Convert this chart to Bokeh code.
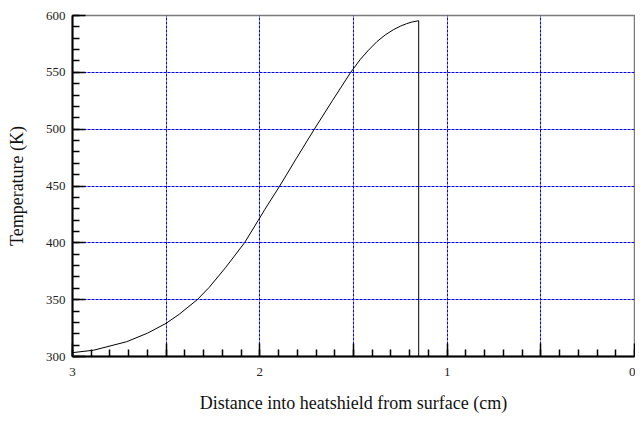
from bokeh.plotting import figure
from bokeh.models import FixedTicker, Range1d
from bokeh.embed import file_html
from bokeh.resources import INLINE

# Data
depth_cm = [3.0, 2.888, 2.711, 2.6, 2.5, 2.43, 2.334, 2.271, 2.184, 2.082,
            2.008, 1.973, 1.894, 1.806, 1.709, 1.613, 1.515, 1.463, 1.42,
            1.375, 1.33, 1.287, 1.25, 1.217, 1.185, 1.152, 1.152]
temperature_k = [303.4, 305.5, 313.0, 320.5, 329.2, 337.2, 350.0, 360.7, 378.0,
                 400.0, 419.9, 429.5, 450.0, 474.0, 500.0, 525.0, 550.0, 561.5,
                 569.5, 577.0, 583.0, 587.5, 590.6, 592.8, 594.4, 595.4, 300.0]

x_major = [3.0, 2.5, 2.0, 1.5, 1.0, 0.5, 0.0]
x_minor = [round(i * 0.1, 1) for i in range(0, 31)]
x_labels = {3.0: "3", 2.5: "", 2.0: "2", 1.5: "", 1.0: "1", 0.5: "", 0.0: "0"}
y_major = [300, 350, 400, 450, 500, 550, 600]
y_minor = list(range(300, 601, 10))
x_grid = [2.5, 2.0, 1.5, 1.0, 0.5]
y_grid = [350, 400, 450, 500, 550]

FONT = "Liberation Serif"

p = figure(width=635, height=418, output_backend="svg", toolbar_location=None,
           x_range=Range1d(3, 0), y_range=Range1d(300, 600),
           min_border_left=72, min_border_right=1, min_border_top=15,
           min_border_bottom=62)

p.background_fill_color = "white"
p.border_fill_color = "white"
p.outline_line_color = "#7a7a7a"
p.outline_line_width = 1.5

p.line(depth_cm, temperature_k, line_color="black", line_width=1)

for ax in (p.xaxis[0], p.yaxis[0]):
    ax.axis_line_color = "black"
    ax.axis_line_width = 2
    ax.major_tick_line_color = "black"
    ax.minor_tick_line_color = "black"
    ax.major_tick_line_width = 1.5
    ax.minor_tick_line_width = 1.5
    ax.major_tick_out = 0
    ax.minor_tick_out = 0
    ax.major_tick_in = 13
    ax.minor_tick_in = 7
    ax.major_label_text_font = FONT
    ax.major_label_text_font_size = "13px"
    ax.major_label_text_color = "#222222"
    ax.axis_label_text_font = FONT
    ax.axis_label_text_font_size = "18px"
    ax.axis_label_text_font_style = "normal"
    ax.axis_label_text_color = "#111111"

p.xaxis[0].ticker = FixedTicker(ticks=x_major, minor_ticks=x_minor)
p.xaxis[0].major_label_overrides = x_labels
p.xaxis[0].major_label_standoff = 11
p.xaxis[0].axis_label = "Distance into heatshield from surface (cm)"
p.xaxis[0].axis_label_standoff = 14

p.yaxis[0].ticker = FixedTicker(ticks=y_major, minor_ticks=y_minor)
p.yaxis[0].major_label_standoff = 7
p.yaxis[0].axis_label = "Temperature (K)"
p.yaxis[0].axis_label_standoff = 16

p.xgrid[0].ticker = FixedTicker(ticks=x_grid)
p.ygrid[0].ticker = FixedTicker(ticks=y_grid)
for g in (p.xgrid[0], p.ygrid[0]):
    g.grid_line_color = "#0000ff"
    g.grid_line_dash = "3 1"
    g.grid_line_width = 1

open("out.html", "w").write(file_html(p, INLINE))
